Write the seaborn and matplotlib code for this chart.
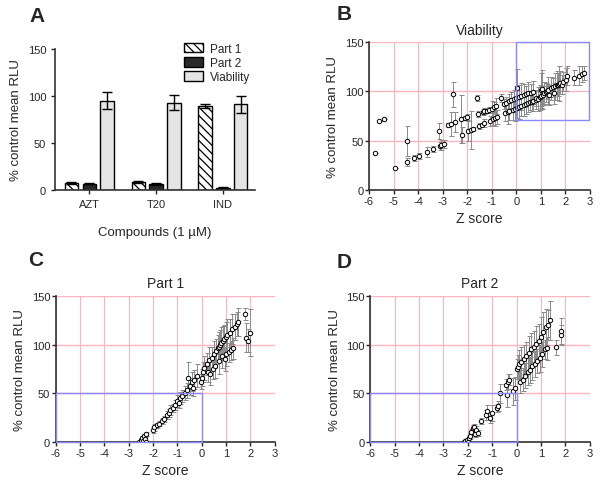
import numpy as np
import pandas as pd
import matplotlib
matplotlib.use("Agg")
import matplotlib.pyplot as plt
from matplotlib.patches import Patch, Rectangle
import seaborn as sns

# Panel A: bar chart
compounds = ["AZT", "T20", "IND"]
measures = ["Part 1", "Part 2", "Viability"]
bar_values = {"Part 1": [8, 8.5, 89], "Part 2": [7, 6.5, 2.5], "Viability": [95, 93, 91]}
bar_errors = {"Part 1": [1, 1, 2], "Part 2": [0.8, 1.5, 0.5], "Viability": [9, 8, 9]}

# Panel B: Viability (z score, % control, error)
via_z = [-5.75, -5.6, -5.4, -4.95, -4.45, -4.45, -4.15, -3.95, -3.65, -3.4, -3.15, -3.12, -3.05, -2.95,
         -2.8, -2.65, -2.58, -2.48, -2.25, -2.22, -2.1, -2.0, -1.95, -1.85, -1.75, -1.6, -1.55, -1.5,
         -1.4, -1.35, -1.3, -1.3, -1.2, -1.1, -1.0, -1.05, -0.95, -0.9, -0.88, -0.82, -0.8, -0.6, -0.5,
         -0.45, -0.4, -0.35, -0.3, -0.28, -0.2, -0.15, -0.1, -0.05, 0.0, 0.05, 0.05, 0.1, 0.12, 0.2, 0.2,
         0.3, 0.3, 0.4, 0.4, 0.5, 0.5, 0.55, 0.6, 0.65, 0.7, 0.7, 0.8, 0.8, 0.9, 0.95, 1.0, 1.0, 1.05,
         1.1, 1.15, 1.2, 1.25, 1.3, 1.35, 1.4, 1.5, 1.55, 1.6, 1.65, 1.7, 1.75, 1.8, 1.85, 1.9, 2.05,
         2.08, 2.35, 2.55, 2.68, 2.78]
via_v = [38, 70, 72, 22, 50, 29, 33, 35, 39, 42, 60, 45, 46, 47,
         66, 67, 97, 69, 72, 56, 73, 74, 60, 61, 62, 93, 77, 65,
         66, 79, 80, 68, 80, 81, 82, 70, 72, 84, 73, 85, 74, 93, 87,
         78, 88, 79, 90, 80, 91, 81, 92, 82, 93, 83, 103, 94, 84, 95, 85,
         96, 86, 97, 87, 88, 98, 89, 98, 89, 99, 90, 91, 93, 92, 94, 95, 101, 102,
         96, 98, 99, 100, 101, 96, 103, 104, 98, 105, 106, 107, 108, 109, 107, 110, 112,
         116, 114, 116, 118, 119]
via_e = [0, 0, 0, 0, 15, 4, 3, 3, 5, 3, 8, 4, 5, 4,
         2, 12, 13, 10, 24, 8, 2, 3, 10, 19, 2, 3, 3, 3,
         2, 3, 3, 4, 2, 3, 8, 5, 6, 5, 8, 8, 7, 4, 5,
         8, 6, 12, 7, 9, 8, 10, 9, 12, 12, 10, 20, 12, 12, 14, 10,
         12, 11, 8, 10, 9, 12, 8, 10, 9, 12, 10, 9, 8, 12, 13, 10, 18, 20,
         9, 12, 10, 8, 14, 10, 12, 10, 11, 14, 15, 12, 18, 12, 10, 10, 12,
         10, 8, 10, 8, 7]

# Panel C: Part 1
p1_z = [-2.6, -2.5, -2.45, -2.4, -2.38, -2.35, -2.3, -2.3, -2.0, -1.95, -1.85, -1.75, -1.65, -1.55,
        -1.45, -1.35, -1.3, -1.2, -1.1, -1.0, -0.95, -0.9, -0.8, -0.7, -0.6, -0.55, -0.5, -0.4, -0.38,
        -0.3, -0.2, -0.05, 0.0, 0.05, 0.1, 0.2, 0.25, 0.3, 0.35, 0.4, 0.45, 0.5, 0.55, 0.6, 0.65, 0.7,
        0.72, 0.75, 0.8, 0.85, 0.88, 0.9, 0.95, 1.0, 1.0, 1.05, 1.1, 1.15, 1.2, 1.25, 1.3, 1.35, 1.45,
        1.5, 1.78, 1.82, 1.9, 2.0]
p1_v = [0, 2, 4, 1, 6, 3, 8, 0, 12, 15, 17, 19, 22, 24,
        28, 30, 33, 35, 38, 42, 40, 45, 47, 50, 53, 66, 57, 62, 55,
        64, 68, 62, 66, 72, 76, 80, 72, 84, 70, 86, 75, 90, 78, 93, 96, 98,
        83, 100, 102, 88, 104, 106, 85, 108, 90, 110, 92, 112, 94, 116, 96, 118, 121,
        123, 131, 107, 104, 112]
p1_e = [0, 1, 2, 1, 2, 2, 2, 1, 3, 4, 3, 3, 3, 3,
        4, 4, 5, 4, 5, 6, 5, 6, 6, 7, 8, 16, 9, 10, 8,
        10, 12, 8, 9, 10, 12, 11, 10, 13, 12, 12, 10, 14, 12, 13, 14, 15,
        13, 15, 16, 12, 15, 14, 12, 15, 12, 16, 10, 14, 10, 15, 11, 13, 12,
        14, 6, 15, 12, 24]

# Panel D: Part 2
p2_z = [-2.15, -2.1, -2.05, -2.0, -1.95, -1.9, -1.85, -1.8, -1.75, -1.7, -1.65, -1.6, -1.45, -1.25,
        -1.2, -1.1, -1.0, -0.8, -0.78, -0.7, -0.45, -0.4, -0.35, -0.3, -0.15, -0.05, 0.0, 0.05, 0.1,
        0.15, 0.2, 0.25, 0.3, 0.35, 0.4, 0.45, 0.5, 0.55, 0.6, 0.65, 0.7, 0.75, 0.8, 0.85, 0.9, 0.95,
        1.0, 1.05, 1.1, 1.15, 1.2, 1.25, 1.3, 1.35, 1.6, 1.8, 1.82]
p2_v = [0, 1, 2, 0, 4, 6, 10, 14, 15, 8, 12, 9, 22, 28,
        32, 25, 30, 35, 37, 50, 59, 48, 62, 64, 52, 55, 75, 77, 80,
        62, 82, 64, 85, 68, 88, 72, 91, 74, 95, 78, 98, 80, 101, 83, 104, 86,
        108, 90, 113, 95, 118, 96, 120, 125, 97, 110, 114]
p2_e = [1, 1, 2, 1, 3, 3, 3, 3, 4, 3, 4, 3, 3, 5,
        6, 5, 8, 4, 5, 10, 6, 12, 8, 6, 14, 12, 10, 12, 14,
        12, 15, 12, 15, 13, 15, 14, 18, 13, 17, 14, 16, 13, 18, 12, 17, 14,
        20, 13, 20, 10, 18, 12, 15, 20, 8, 10, 13]

sns.set_style("white")
plt.rcParams["font.family"] = ["Liberation Sans", "DejaVu Sans"]
plt.rcParams["hatch.linewidth"] = 0.9
plt.rcParams["axes.unicode_minus"] = False

fig = plt.figure(figsize=(6, 4.89), dpi=100)
ax_a = fig.add_axes([0.092, 0.609, 0.333, 0.289])
ax_b = fig.add_axes([0.615, 0.609, 0.368, 0.303])
ax_c = fig.add_axes([0.093, 0.094, 0.365, 0.299])
ax_d = fig.add_axes([0.617, 0.094, 0.366, 0.299])

# --- A: bars
rows = []
for m in measures:
    for i, c in enumerate(compounds):
        rows.append({"compound": c, "measure": m, "value": bar_values[m][i], "err": bar_errors[m][i]})
df_bar = pd.DataFrame(rows)
colors = {"Part 1": "white", "Part 2": "#2a2a2a", "Viability": "#e4e4e4"}
sns.barplot(data=df_bar, x="compound", y="value", hue="measure", order=compounds, hue_order=measures,
            palette=colors, width=0.8, gap=0.25, errorbar=None, edgecolor="black", linewidth=1,
            saturation=1, legend=False, ax=ax_a)
bars = sorted(ax_a.patches, key=lambda p: p.get_x())
ordered = df_bar.assign(ci=df_bar["compound"].map(compounds.index),
                        mi=df_bar["measure"].map(measures.index)).sort_values(["ci", "mi"])
for p, (_, r) in zip(bars, ordered.iterrows()):
    if r["measure"] == "Part 1":
        p.set_facecolor("white")
        p.set_hatch("\\\\\\\\")
    cx = p.get_x() + p.get_width() / 2
    ax_a.errorbar(cx, r["value"], yerr=r["err"], fmt="none", ecolor="black", elinewidth=1, capsize=3.5, capthick=1)
ax_a.set_xlim(-0.51, 2.48)
ax_a.set_ylim(0, 150)
ax_a.set_yticks([0, 50, 100, 150])
ax_a.set_xlabel("Compounds (1 µM)", fontsize=9.5, labelpad=12)
ax_a.set_ylabel("% control mean RLU", fontsize=9.5)
ax_a.tick_params(labelsize=8, length=3, width=1, direction="out", bottom=True, left=True)
for s in ["top", "right"]:
    ax_a.spines[s].set_visible(False)
for s in ["left", "bottom"]:
    ax_a.spines[s].set_color("#333333")
    ax_a.spines[s].set_linewidth(1.2)
handles = [Patch(facecolor="white", edgecolor="black", hatch="\\\\\\\\", label="Part 1"),
           Patch(facecolor="#2a2a2a", edgecolor="black", label="Part 2"),
           Patch(facecolor="#e4e4e4", edgecolor="black", label="Viability")]
ax_a.legend(handles=handles, loc="upper right", bbox_to_anchor=(1.03, 1.12), frameon=False,
            fontsize=8.5, handlelength=1.6, handleheight=0.9, labelspacing=0.2, handletextpad=0.6)


def scatter_panel(ax, z, v, e, title, box):
    ax.set_xlim(-6, 3)
    ax.set_ylim(0, 150)
    ax.set_xticks(range(-6, 4))
    ax.set_yticks([0, 50, 100, 150])
    ax.xaxis.grid(True, color="#ffb3c1", linewidth=0.8)
    ax.yaxis.grid(True, color="#ffb3c1", linewidth=1.0)
    ax.set_axisbelow(True)
    ax.errorbar(z, v, yerr=e, fmt="none", ecolor="#8a8a8a", elinewidth=0.7, capsize=1.8, capthick=0.7, zorder=2)
    sns.scatterplot(x=z, y=v, marker="o", s=10, facecolor="white", edgecolor="black", linewidth=0.7,
                    zorder=3, ax=ax)
    ax.add_patch(Rectangle(box[:2], box[2], box[3], fill=False, edgecolor="#8888ff", linewidth=1,
                           zorder=4, clip_on=False))
    ax.set_title(title, fontsize=10, pad=6)
    ax.set_xlabel("Z score", fontsize=10)
    ax.set_ylabel("% control mean RLU", fontsize=9.5)
    ax.tick_params(labelsize=8, length=3, width=1, direction="out", bottom=True, left=True, pad=1)
    for s in ["top", "right"]:
        ax.spines[s].set_visible(False)
    for s in ["left", "bottom"]:
        ax.spines[s].set_color("#333333")
        ax.spines[s].set_linewidth(1.2)


scatter_panel(ax_b, via_z, via_v, via_e, "Viability", (0, 71, 2.97, 79))
scatter_panel(ax_c, p1_z, p1_v, p1_e, "Part 1", (-6, 0, 6, 50))
scatter_panel(ax_d, p2_z, p2_v, p2_e, "Part 2", (-6, 0, 6, 50))

for lbl, x, y in [("A", 0.062, 0.967), ("B", 0.573, 0.971), ("C", 0.06, 0.468), ("D", 0.573, 0.464)]:
    fig.text(x, y, lbl, fontsize=15, fontweight="bold", ha="center", va="center")

fig.savefig("out.png", dpi=100)
